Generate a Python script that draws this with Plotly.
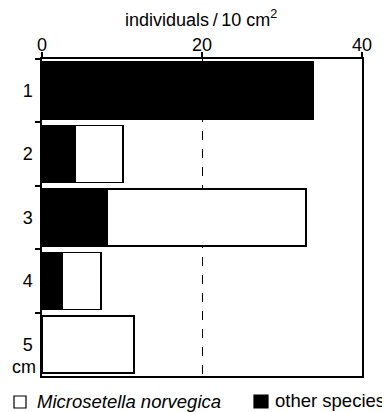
import plotly.graph_objects as go

depths = ["1", "2", "3", "4", "5"]
other_species = [33.9, 4.2, 8.1, 2.5, 0]
microsetella = [0, 5.9, 24.9, 4.9, 11.5]
x_ticks = [0, 20, 40]

FONT = "Liberation Sans, Arial, sans-serif"
OFF = 8  # page body margin offset
W, H = 390 - OFF, 412 - OFF
ML, MR, MT, MB = 42 - OFF, 28, 59 - OFF, 36

fig = go.Figure()
fig.add_trace(go.Bar(
    y=depths, x=other_species, orientation="h", name="other species",
    marker=dict(color="black", line=dict(color="black", width=1.5)),
))
fig.add_trace(go.Bar(
    y=depths, x=microsetella, orientation="h", name="Microsetella norvegica",
    marker=dict(color="white", line=dict(color="black", width=1.5)),
))

def px_x(p):
    return (p - OFF - ML) / (W - ML - MR)

def px_y(p):
    return 1 - (p - OFF - MT) / (H - MT - MB)

shapes = [
    dict(type="rect", xref="paper", yref="paper",
         x0=px_x(14), x1=px_x(26), y0=px_y(408), y1=px_y(396),
         fillcolor="white", line=dict(color="black", width=1.2)),
    dict(type="rect", xref="paper", yref="paper",
         x0=px_x(254), x1=px_x(268), y0=px_y(408), y1=px_y(395),
         fillcolor="black", line=dict(color="black", width=1.2)),
]

annotations = [
    dict(text="cm", xref="paper", yref="paper", x=px_x(38), y=px_y(367),
         xanchor="right", yanchor="middle", showarrow=False, font=dict(size=18)),
    dict(text="<i>Microsetella norvegica</i>", xref="paper", yref="paper",
         x=px_x(35), y=px_y(401), xanchor="left", yanchor="middle",
         showarrow=False, font=dict(size=18.5)),
    dict(text="other species", xref="paper", yref="paper",
         x=px_x(273), y=px_y(400), xanchor="left", yanchor="middle",
         showarrow=False, font=dict(size=18.5)),
    dict(text="individuals\u2009/\u200910 cm<sup>2</sup>", xref="paper", yref="paper",
         x=px_x(201), y=px_y(19), xanchor="center", yanchor="middle",
         showarrow=False, font=dict(size=18)),
]

fig.update_layout(
    width=W, height=H,
    margin=dict(l=ML, r=MR, t=MT, b=MB),
    barmode="stack", bargap=0.1,
    plot_bgcolor="white", paper_bgcolor="white",
    font=dict(family=FONT, color="black", size=18),
    showlegend=False,
    xaxis=dict(
        side="top", range=[0, 40], tickvals=x_ticks, ticktext=[str(v) for v in x_ticks],
        showline=True, linecolor="black", linewidth=1.5, mirror=True,
        ticks="outside", ticklen=5, tickcolor="black", tickwidth=1.5,
        showgrid=True, gridcolor="black", griddash="dash", gridwidth=1,
        zeroline=False, automargin=False, ticklabelstandoff=-6,
        fixedrange=True,
    ),
    yaxis=dict(
        autorange="reversed", type="category", tickson="boundaries",
        showline=True, linecolor="black", linewidth=1.5, mirror=True,
        ticks="outside", ticklen=5, tickcolor="black", tickwidth=1.5,
        showgrid=False, zeroline=False, ticklabelstandoff=4, automargin=False,
        fixedrange=True,
    ),
    shapes=shapes,
    annotations=annotations,
)

fig.write_html("out.html")
